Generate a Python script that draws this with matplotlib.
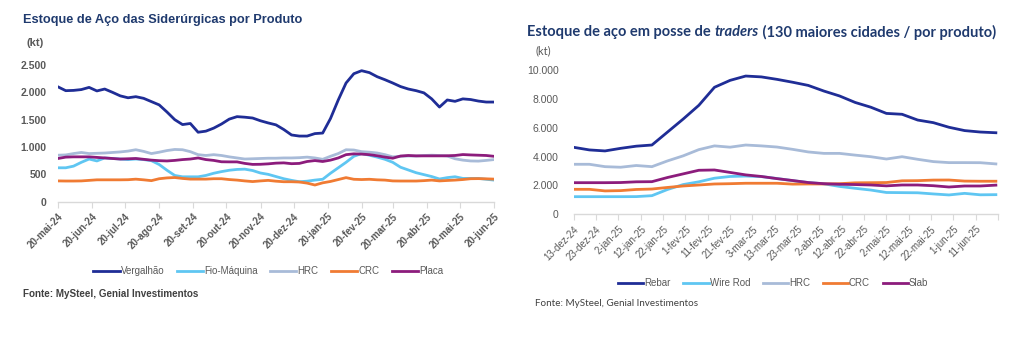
import matplotlib
matplotlib.use('Agg')
import matplotlib.pyplot as plt
import pandas as pd

MESES = ['jan', 'fev', 'mar', 'abr', 'mai', 'jun', 'jul', 'ago', 'set', 'out', 'nov', 'dez']

# --- estoque das siderurgicas (kt), semanal ---
sider_datas = pd.date_range('2024-05-20', '2025-06-20', periods=57)
vergalhao = [2100, 2030, 2035, 2050, 2090, 2025, 2060, 2000, 1935, 1900, 1920, 1890, 1830, 1770,
             1640, 1500, 1410, 1430, 1270, 1290, 1345, 1420, 1510, 1555, 1545, 1530, 1480, 1440,
             1405, 1320, 1220, 1200, 1200, 1245, 1255, 1520, 1860, 2170, 2340, 2395, 2360, 2285,
             2230, 2170, 2105, 2060, 2030, 1990, 1880, 1730, 1860, 1835, 1880, 1868, 1840, 1822, 1822]
fio_maquina = [620, 620, 650, 720, 780, 745, 800, 790, 780, 770, 780, 770, 750, 680,
               575, 480, 455, 455, 455, 480, 520, 550, 575, 590, 595, 570, 525, 500,
               460, 420, 390, 365, 375, 395, 410, 520, 620, 720, 830, 880, 850, 815,
               775, 720, 630, 580, 530, 495, 460, 415, 440, 456, 426, 426, 426, 410, 395]
hrc = [850, 855, 880, 900, 880, 885, 890, 900, 910, 925, 950, 920, 880, 905,
       935, 955, 950, 915, 860, 845, 860, 845, 820, 800, 780, 785, 790, 795,
       795, 800, 800, 805, 815, 800, 775, 830, 880, 950, 945, 915, 905, 890,
       860, 820, 830, 835, 835, 845, 850, 845, 835, 785, 760, 745, 742, 755, 770]
crc = [380, 378, 378, 380, 390, 400, 400, 400, 400, 402, 412, 400, 385, 420,
       435, 442, 425, 413, 413, 413, 420, 420, 405, 395, 380, 368, 380, 390,
       375, 365, 365, 360, 340, 305, 345, 370, 405, 440, 410, 405, 410, 400,
       395, 380, 378, 378, 378, 385, 395, 380, 388, 395, 405, 420, 422, 418, 413]
placa = [790, 815, 820, 820, 820, 810, 800, 790, 780, 785, 790, 775, 760, 750,
         745, 755, 770, 780, 800, 770, 755, 730, 728, 728, 700, 682, 684, 692,
         705, 710, 695, 700, 735, 752, 735, 760, 800, 860, 875, 870, 860, 840,
         815, 795, 835, 845, 838, 838, 838, 838, 840, 845, 862, 855, 850, 845, 830]

# --- estoque em posse de traders (kt), semanal ---
trader_datas = pd.date_range('2024-12-13', periods=28, freq='7D')
rebar = [4640, 4460, 4390, 4570, 4720, 4800, 5700, 6600, 7550, 8800, 9280, 9580, 9520, 9350,
         9150, 8930, 8540, 8200, 7750, 7420, 6990, 6930, 6530, 6350, 6030, 5800, 5700, 5650]
wire_rod = [1220, 1220, 1220, 1220, 1225, 1290, 1720, 2060, 2250, 2500, 2620, 2650, 2610, 2480,
            2330, 2200, 2110, 1930, 1800, 1680, 1510, 1500, 1490, 1410, 1340, 1450, 1350, 1360]
hrc_t = [3465, 3465, 3300, 3260, 3380, 3300, 3700, 4050, 4480, 4740, 4650, 4800, 4740, 4660,
         4500, 4320, 4220, 4220, 4100, 3990, 3830, 3990, 3810, 3650, 3580, 3580, 3575, 3490]
crc_t = [1730, 1730, 1620, 1640, 1720, 1750, 1860, 1960, 2030, 2100, 2120, 2150, 2150, 2150,
         2090, 2100, 2100, 2120, 2180, 2190, 2200, 2320, 2330, 2370, 2375, 2300, 2290, 2290]
slab = [2190, 2190, 2190, 2200, 2250, 2260, 2550, 2800, 3050, 3070, 2900, 2730, 2620, 2470,
        2340, 2200, 2120, 2080, 2060, 2030, 1970, 2030, 2030, 1980, 1890, 1960, 1960, 2020]

sider_ticks = pd.date_range('2024-05-20', periods=14, freq=pd.DateOffset(months=1))
trader_ticks = pd.date_range('2024-12-13', periods=20, freq='10D')

AZUL = '#1f2d96'
CIANO = '#5fc6f2'
CINZA_AZ = '#a8bbd8'
LARANJA = '#f07b33'
ROXO = '#8c1c7c'
TXT = '#595959'
TITULO = '#1f3a6e'
LATO = ['Lato', 'DejaVu Sans']


def rotulo_data(d):
    return f'{d.day}-{MESES[d.month - 1]}-{d.strftime("%y")}'


def milhar(v):
    return f'{v:,.0f}'.replace(',', '.')


def estilo_eixo(ax, ticks, labels, yticks, peso):
    for s in ['top', 'right', 'left']:
        ax.spines[s].set_visible(False)
    ax.spines['bottom'].set_color('#d9d9d9')
    ax.spines['bottom'].set_linewidth(1.0)
    ax.set_xticks(ticks)
    ax.set_xticklabels(labels, rotation=45, ha='right', rotation_mode='anchor',
                       fontsize=7, color=TXT, fontweight=peso)
    ax.tick_params(axis='x', length=4, color='#d9d9d9', pad=3)
    ax.set_yticks(yticks)
    ax.set_yticklabels([milhar(v) for v in yticks], fontsize=7.5, color=TXT, fontweight=peso)
    ax.tick_params(axis='y', length=0)


plt.rcParams['font.family'] = ['Liberation Sans', 'DejaVu Sans']
fig = plt.figure(figsize=(10.24, 3.41), dpi=100)

# painel esquerdo
ax1 = fig.add_axes([0.0566, 0.4085, 0.4258, 0.401])
lw = 2.0
ax1.plot(sider_datas, vergalhao, color=AZUL, lw=lw, label='Vergalhão')
ax1.plot(sider_datas, fio_maquina, color=CIANO, lw=lw, label='Fio-Máquina')
ax1.plot(sider_datas, hrc, color=CINZA_AZ, lw=lw, label='HRC')
ax1.plot(sider_datas, crc, color=LARANJA, lw=lw, label='CRC')
ax1.plot(sider_datas, placa, color=ROXO, lw=lw, label='Placa')
ax1.set_xlim(pd.Timestamp('2024-05-20'), pd.Timestamp('2025-06-20'))
ax1.set_ylim(0, 2500)
estilo_eixo(ax1, sider_ticks, [rotulo_data(d) for d in sider_ticks],
            [0, 500, 1000, 1500, 2000, 2500], 'bold')
ax1.tick_params(axis='y', pad=8)
ax1.legend(loc='center', bbox_to_anchor=(0.262, 0.205), bbox_transform=fig.transFigure,
           ncol=5, frameon=False, fontsize=7, handlelength=2.7, handletextpad=0.1,
           columnspacing=1.3, labelcolor=TXT)

fig.text(0.022, 0.94, 'Estoque de Aço das Siderúrgicas por Produto', fontsize=9.2,
         fontweight='bold', color=TITULO, va='center')
fig.text(0.026, 0.873, '(kt)', fontsize=8, fontweight='bold', color=TXT, va='center')
fig.text(0.022, 0.138, 'Fonte: MySteel, Genial Investimentos', fontsize=7.1,
         fontweight='bold', color='#404040', va='center')

# painel direito
ax2 = fig.add_axes([0.5603, 0.3716, 0.4144, 0.4232])
ax2.plot(trader_datas, rebar, color=AZUL, lw=lw, label='Rebar')
ax2.plot(trader_datas, wire_rod, color=CIANO, lw=lw, label='Wire Rod')
ax2.plot(trader_datas, hrc_t, color=CINZA_AZ, lw=lw, label='HRC')
ax2.plot(trader_datas, crc_t, color=LARANJA, lw=lw, label='CRC')
ax2.plot(trader_datas, slab, color=ROXO, lw=lw, label='Slab')
ax2.set_xlim(pd.Timestamp('2024-12-13'), pd.Timestamp('2025-06-21'))
ax2.set_ylim(0, 10000)
rot_trader = [rotulo_data(d) for d in trader_ticks[:-1]] + ['']
estilo_eixo(ax2, trader_ticks, rot_trader, [0, 2000, 4000, 6000, 8000, 10000], 'normal')
ax2.tick_params(axis='y', pad=11)
ax2.legend(loc='center', bbox_to_anchor=(0.755, 0.170), bbox_transform=fig.transFigure,
           ncol=5, frameon=False, fontsize=7, handlelength=2.6, handletextpad=0.1,
           columnspacing=1.3, labelcolor=TXT)

# titulo em tres trechos (o meio em italico)
t_ini = fig.text(0.515, 0.905, 'Estoque de aço em posse de ', fontsize=10.5, fontweight='bold',
                 color=TITULO, va='center', family=LATO)
t_it = fig.text(0.0, 0.905, 'traders', fontsize=10.5, fontweight='bold', style='italic',
                color=TITULO, va='center', family=LATO)
t_fim = fig.text(0.0, 0.905, ' (130 maiores cidades / por produto)', fontsize=10.5,
                 fontweight='bold', color=TITULO, va='center', family=LATO)

fig.canvas.draw()
r = fig.canvas.get_renderer()
inv = fig.transFigure.inverted()
x_fim = inv.transform(t_ini.get_window_extent(r).get_points())[1][0]
t_it.set_x(x_fim)
x_fim = inv.transform(t_it.get_window_extent(r).get_points())[1][0]
t_fim.set_x(x_fim)

fig.text(0.523, 0.852, '(kt)', fontsize=8, color=TXT, va='center', family=LATO)
fig.text(0.522, 0.111, 'Fonte: MySteel, Genial Investimentos', fontsize=7.1,
         color='#404040', va='center', family=LATO)

fig.savefig('out.png', dpi=100)
